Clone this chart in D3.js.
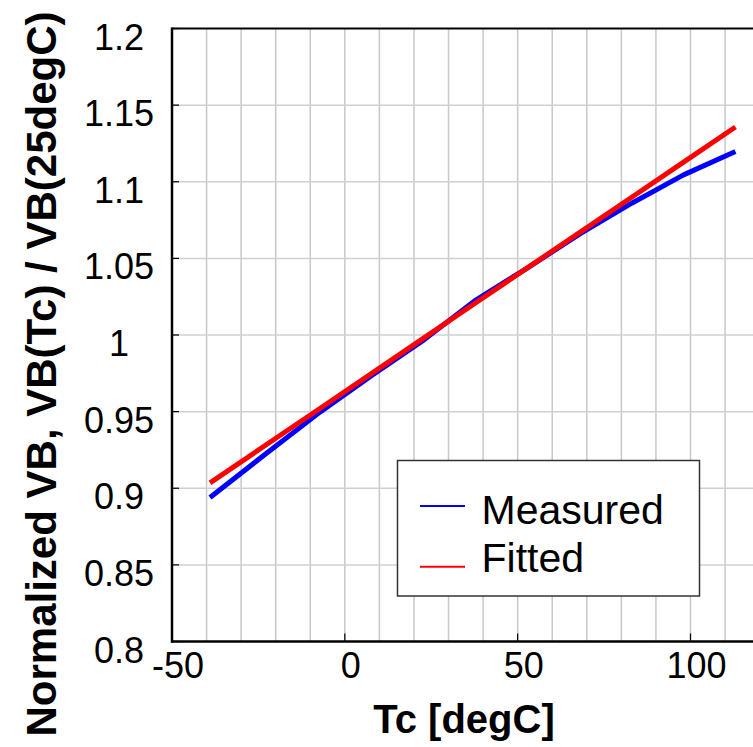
<!DOCTYPE html>
<html>
<head>
<meta charset="utf-8">
<script src="https://cdn.jsdelivr.net/npm/d3@7"></script>
<style>
  body { margin: 0; background: #fff; }
  svg { display: block; font-family: "Liberation Sans", Arial, sans-serif; }
</style>
</head>
<body>
<svg id="chart" width="753" height="747"></svg>
<script>
// temperature points (degC) and normalized VB values
var tcPoints = [-39, -22, -7, 8, 23, 38, 53, 68, 83, 98, 113];
var measured = [0.894, 0.924, 0.950, 0.974, 0.997, 1.023, 1.044, 1.066, 1.086, 1.1045, 1.1197];
var fitted = [0.9035, 0.9295, 0.9524, 0.9753, 0.9983, 1.0212, 1.0441, 1.0670, 1.0899, 1.1128, 1.1357];

var xTickLabels = [-50, 0, 50, 100];
var yTickLabels = [0.8, 0.85, 0.9, 0.95, 1, 1.05, 1.1, 1.15, 1.2];
var xGrid = [-40, -30, -20, -10, 0, 10, 20, 30, 40, 50, 60, 70, 80, 90, 100, 110, 120];

var seriesNames = ['Measured', 'Fitted'];
var seriesColors = ['#0000ff', '#ff0000'];

(function() {
  var svg = d3.select('#chart');
  var left = 172, right = 753, top = 28.5, bottom = 641.5;

  var x = d3.scaleLinear().domain([-50, 100]).range([172, 690.5]);
  var y = d3.scaleLinear().domain([0.8, 1.2]).range([bottom, top]);

  svg.append('clipPath').attr('id', 'plotclip')
    .append('rect').attr('x', left).attr('y', top).attr('width', right - left).attr('height', bottom - top);

  var plot = svg.append('g').attr('clip-path', 'url(#plotclip)');

  // grid
  plot.selectAll('line.vgrid').data(xGrid).enter().append('line')
    .attr('class', 'vgrid')
    .attr('x1', function(d) { return x(d); }).attr('x2', function(d) { return x(d); })
    .attr('y1', top).attr('y2', bottom)
    .attr('stroke', '#c8c8c8').attr('stroke-width', 1.5);

  plot.selectAll('line.hgrid').data(yTickLabels.slice(1, -1)).enter().append('line')
    .attr('class', 'hgrid')
    .attr('x1', left).attr('x2', right)
    .attr('y1', function(d) { return y(d); }).attr('y2', function(d) { return y(d); })
    .attr('stroke', '#d0d0d0').attr('stroke-width', 1.5);

  // data lines
  var line = d3.line()
    .x(function(d) { return x(d[0]); })
    .y(function(d) { return y(d[1]); });

  [measured, fitted].forEach(function(vals, i) {
    plot.append('path')
      .datum(d3.zip(tcPoints, vals))
      .attr('d', line)
      .attr('fill', 'none')
      .attr('stroke', seriesColors[i])
      .attr('stroke-width', 5)
      .attr('stroke-linejoin', 'round');
  });

  // axes frame
  svg.append('line').attr('x1', left).attr('x2', right).attr('y1', top).attr('y2', top)
    .attr('stroke', '#000').attr('stroke-width', 2);
  svg.append('line').attr('x1', left).attr('x2', left).attr('y1', top - 1).attr('y2', bottom + 1)
    .attr('stroke', '#000').attr('stroke-width', 2.5);
  svg.append('line').attr('x1', left - 1).attr('x2', right).attr('y1', bottom).attr('y2', bottom)
    .attr('stroke', '#000').attr('stroke-width', 2.5);

  // ticks
  svg.selectAll('line.ytick').data(yTickLabels).enter().append('line')
    .attr('class', 'ytick')
    .attr('x1', left).attr('x2', left + 7)
    .attr('y1', function(d) { return y(d); }).attr('y2', function(d) { return y(d); })
    .attr('stroke', '#000').attr('stroke-width', 1.2);

  svg.selectAll('line.xtick').data(xTickLabels.slice(1)).enter().append('line')
    .attr('class', 'xtick')
    .attr('x1', function(d) { return x(d); }).attr('x2', function(d) { return x(d); })
    .attr('y1', bottom).attr('y2', bottom - 8)
    .attr('stroke', '#000').attr('stroke-width', 1.2);

  // tick labels
  svg.selectAll('text.ylab').data(yTickLabels).enter().append('text')
    .attr('class', 'ylab')
    .attr('x', 119)
    .attr('y', function(d) { return y(d) + 21; })
    .attr('text-anchor', 'middle')
    .attr('font-size', 36)
    .text(function(d) { return d3.format('')(d); });

  svg.selectAll('text.xlab').data(xTickLabels).enter().append('text')
    .attr('class', 'xlab')
    .attr('x', function(d) { return x(d) + 6; })
    .attr('y', 678)
    .attr('text-anchor', 'middle')
    .attr('font-size', 36)
    .text(function(d) { return d; });

  // axis titles
  svg.append('text')
    .attr('x', 464).attr('y', 733)
    .attr('text-anchor', 'middle')
    .attr('font-size', 40).attr('font-weight', 'bold')
    .text('Tc [degC]');

  svg.append('text')
    .attr('transform', 'translate(56,374) rotate(-90)')
    .attr('text-anchor', 'middle')
    .attr('font-size', 42).attr('font-weight', 'bold')
    .text('Normalized VB, VB(Tc) / VB(25degC)');

  // legend
  var legend = svg.append('g').attr('transform', 'translate(397.5,460.5)');
  legend.append('rect')
    .attr('width', 302).attr('height', 135.5)
    .attr('fill', '#fff').attr('stroke', '#333').attr('stroke-width', 1.5);

  seriesNames.forEach(function(name, i) {
    legend.append('line').attr('x1', 22.5).attr('x2', 67.5)
      .attr('y1', 45.5 + i * 60.7).attr('y2', 45.5 + i * 60.7)
      .attr('stroke', seriesColors[i]).attr('stroke-width', 2);
    legend.append('text').attr('x', 84).attr('y', 63.5 + i * 47.7)
      .attr('font-size', 41)
      .text(name);
  });
})();
</script>
</body>
</html>
